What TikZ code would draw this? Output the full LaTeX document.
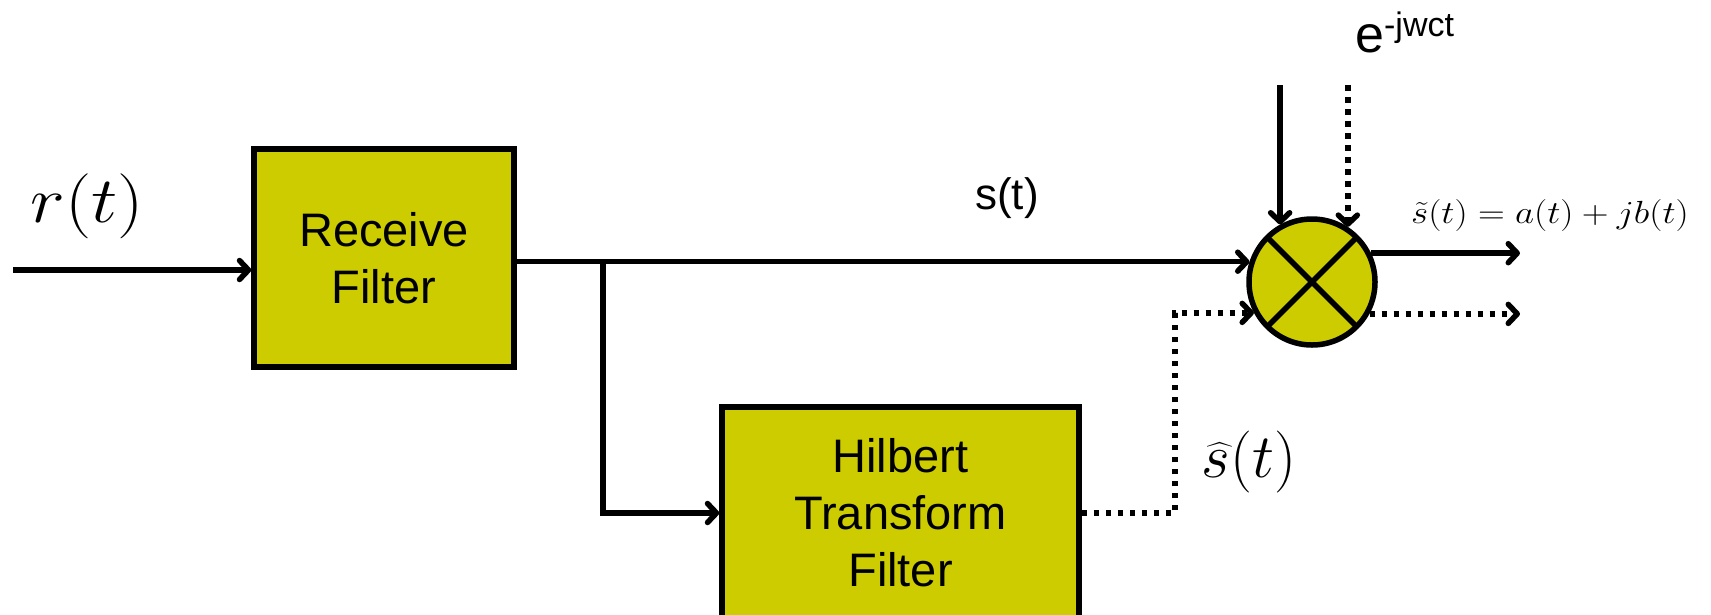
\documentclass[tikz,border=0pt]{standalone}
\usepackage{fix-cm}
\usepackage{exscale}
\usepackage{graphicx}
\usepackage{fontspec}
\setmainfont{Liberation Sans}
\usetikzlibrary{arrows.meta}
\definecolor{boxfill}{RGB}{204,204,0}
\tikzset{
  lw/.style={line width=5.5pt},
  blk/.style={draw, lw, fill=boxfill, align=center, inner sep=0pt,
    font=\fontsize{47pt}{57pt}\selectfont},
  tip/.style={-{Straight Barb[length=9pt,width=19pt,round]}},
  conn/.style={lw, tip},
  dots/.style={lw, dash pattern=on 5.5pt off 6.5pt},
}
\begin{document}
\begin{tikzpicture}[x=1pt,y=-1pt]
\useasboundingbox (0,0) rectangle (1711,614);
\clip (0,0) rectangle (1711,614);
% blocks
\node[blk, minimum width=260pt, minimum height=218pt] (rf) at (384,258) {Receive\\Filter};
\node[blk, minimum width=357pt, minimum height=212pt] (hf) at (900.5,513) {Hilbert\\Transform\\Filter};
\node[draw, lw, fill=boxfill, circle, minimum size=126pt, inner sep=0pt] (mix) at (1312,282) {};
\draw[lw] ([shift={(45:63pt)}]mix.center) -- ([shift={(225:63pt)}]mix.center);
\draw[lw] ([shift={(135:63pt)}]mix.center) -- ([shift={(315:63pt)}]mix.center);
% free ends
\coordinate (inS) at (13,270);
\coordinate (br) at (603,262);
\coordinate (dk) at (1175,400);
\coordinate (top) at (0,85);
\coordinate (oend) at (1520,0);
% connectors
\draw[conn] (inS) -- (inS -| rf.west);
\draw[conn] (rf.east |- mix.162.3) -- (mix.162.3);
\draw[conn] (br) |- (hf.west);
\draw[dots, tip] (hf.east) -| (dk) |- (mix.208.1);
\draw[conn] (mix.119.1 |- top) -- (mix.119.1);
\draw[dots, tip] (mix.57.8 |- top) -- (mix.57.8);
\draw[conn] (mix.26.2) -- (mix.26.2 -| oend);
\draw[dots, tip] (mix.331.9) -- (mix.331.9 -| oend);
% labels
\node[font=\fontsize{65pt}{72pt}\selectfont] (rt) at (87,206) {\scalebox{1.14}[1]{$r(t)$}};
\node[font=\fontsize{44pt}{48pt}\selectfont] (st) at (1007,198) {s(t)};
\node[anchor=base west, inner sep=0pt, font=\fontsize{52pt}{56pt}\selectfont] (ex) at (1355,52) {e\raisebox{16pt}{\fontsize{34pt}{36pt}\selectfont -jwct}};
\node[font=\fontsize{62pt}{68pt}\selectfont] (sh) at (1249,462) {$\widehat{s}(t)$};
\node[font=\fontsize{32pt}{35pt}\selectfont] (sl) at (1550,215) {\scalebox{1.16}[1]{$\tilde{s}(t)=a(t)+jb(t)$}};
\end{tikzpicture}
\end{document}
